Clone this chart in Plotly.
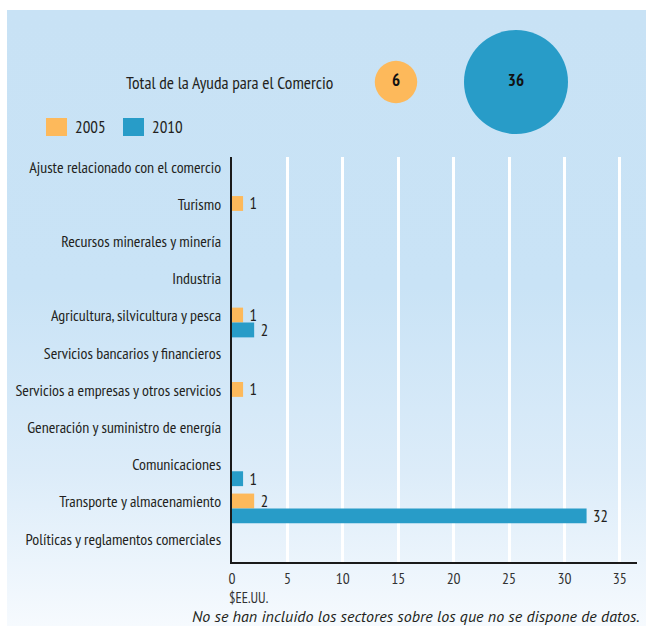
import base64
import plotly.graph_objects as go

W, H = 646, 626

# ---- data ----
categories = [
    "Ajuste relacionado con el comercio",
    "Turismo",
    "Recursos minerales y minería",
    "Industria",
    "Agricultura, silvicultura y pesca",
    "Servicios bancarios y financieros",
    "Servicios a empresas y otros servicios",
    "Generación y suministro de energía",
    "Comunicaciones",
    "Transporte y almacenamiento",
    "Políticas y reglamentos comerciales",
]
values_2005 = [None, 1, None, None, 1, None, 1, None, None, 2, None]
values_2010 = [None, None, None, None, 2, None, None, None, 1, 32, None]
years = ["2005", "2010"]
totals = [6, 36]
x_ticks = [0, 5, 10, 15, 20, 25, 30, 35]

ORANGE = "#FDB95B"
BLUE = "#289CC8"
TXT = "#231F20"
COND = "PT Sans Narrow, Roboto Condensed, DejaVu Sans Condensed, sans-serif"
ITAL = "PT Sans, Lato, Liberation Sans, sans-serif"


def px(x):
    return x / W


def py(y):
    return 1 - y / H


fig = go.Figure()

fig.add_trace(go.Bar(
    y=categories, x=values_2005, orientation="h", name="2005",
    marker=dict(color=ORANGE, line=dict(width=0)),
    width=0.4, offset=-0.22,
    text=values_2005, texttemplate="\u00a0%{x}", textposition="outside",
    textfont=dict(family=COND, size=16.5, color=TXT),
    constraintext="none", cliponaxis=False, showlegend=False,
))
fig.add_trace(go.Bar(
    y=categories, x=values_2010, orientation="h", name="2010",
    marker=dict(color=BLUE, line=dict(width=0)),
    width=0.4, offset=0.18,
    text=values_2010, texttemplate="\u00a0%{x}", textposition="outside",
    textfont=dict(family=COND, size=16.5, color=TXT),
    constraintext="none", cliponaxis=False, showlegend=False,
))

# bubbles for totals (area proportional)
fig.add_trace(go.Scatter(
    x=years, y=[0, 0], xaxis="x2", yaxis="y2", mode="markers+text",
    marker=dict(size=totals, sizemode="area", sizeref=2 * 36 / 104 ** 2, opacity=1,
                color=[ORANGE, BLUE], line=dict(width=0)),
    text=[str(t) for t in totals], textposition="middle center",
    textfont=dict(family=COND, size=17, color="#111111", weight="bold"),
    cliponaxis=False, showlegend=False, hoverinfo="skip",
))

# background gradient
svg = ('<svg xmlns="http://www.w3.org/2000/svg" width="100" height="100" preserveAspectRatio="none">'
       '<defs><linearGradient id="g" x1="0" y1="0" x2="0" y2="1">'
       '<stop offset="0" stop-color="#C8E2F5"/>'
       '<stop offset="0.45" stop-color="#C9E3F6"/>'
       '<stop offset="0.75" stop-color="#DCECF9"/>'
       '<stop offset="1" stop-color="#F6FAFE"/>'
       '</linearGradient></defs><rect width="100" height="100" fill="url(#g)"/></svg>')
src = "data:image/svg+xml;base64," + base64.b64encode(svg.encode()).decode()

x0p, x1p = 232, 637
y0p, y1p = 157, 562
bx0, bx1 = 396, 516
ppu = bx1 - bx0
x2range = [-(bx0 - x0p) / ppu, 1 + (x1p - bx1) / ppu]

fig.update_layout(
    width=W, height=H,
    margin=dict(l=0, r=0, t=0, b=0),
    paper_bgcolor="white", plot_bgcolor="rgba(0,0,0,0)",
    barmode="overlay",
    font=dict(family=COND, size=16, color=TXT),
    xaxis=dict(domain=[px(x0p), px(x1p)], range=[0, 36.55], tickvals=x_ticks,
               showgrid=True, gridcolor="white", gridwidth=2.5,
               showline=True, linecolor="#1a1a1a", linewidth=1.5,
               zeroline=False, ticks="", ticklabelstandoff=2,
               tickfont=dict(family=COND, size=15.5, color="#333333"),
               automargin=False, fixedrange=True),
    yaxis=dict(domain=[py(y1p), py(y0p)], range=[10.62, -0.27],
               type="category", showgrid=False,
               showline=True, linecolor="#1a1a1a", linewidth=1.5,
               ticks="", ticklabelstandoff=6,
               tickfont=dict(family=COND, size=16, color=TXT),
               automargin=False, fixedrange=True),
    xaxis2=dict(domain=[px(x0p), px(x1p)], range=x2range, type="category",
                visible=False, anchor="y2", fixedrange=True),
    yaxis2=dict(domain=[py(140), py(24)], range=[-1, 1], visible=False,
                anchor="x2", fixedrange=True),
    images=[dict(source=src, xref="paper", yref="paper", x=px(7), y=py(10),
                 sizex=1 - px(7), sizey=py(10), sizing="stretch",
                 xanchor="left", yanchor="top", layer="below")],
    showlegend=False,
)

# legend (drawn manually)
shapes = []
ann = []
for col, lbl, sx in [(ORANGE, "2005", 46), (BLUE, "2010", 123)]:
    shapes.append(dict(type="rect", xref="paper", yref="paper",
                       x0=px(sx), x1=px(sx + 21), y0=py(136), y1=py(118),
                       fillcolor=col, line=dict(width=0)))
    ann.append(dict(text=lbl, xref="paper", yref="paper", x=px(sx + 27), y=py(127),
                    xanchor="left", yanchor="middle", showarrow=False,
                    font=dict(family=COND, size=17, color=TXT)))

ann.append(dict(text="Total de la Ayuda para el Comercio", xref="paper", yref="paper",
                x=px(335), y=py(82), xanchor="right", yanchor="middle", showarrow=False,
                font=dict(family=COND, size=17.5, color=TXT)))
ann.append(dict(text="$EE.UU.", xref="paper", yref="paper", x=px(228), y=py(597),
                xanchor="left", yanchor="middle", showarrow=False, borderpad=0,
                font=dict(family=COND, size=14.5, color="#333333")))
ann.append(dict(text="<i>No se han incluido los sectores sobre los que no se dispone de datos.</i>",
                xref="paper", yref="paper", x=px(641), y=py(616),
                xanchor="right", yanchor="middle", showarrow=False, borderpad=0,
                font=dict(family=ITAL, size=16, color=TXT)))

fig.update_layout(shapes=shapes, annotations=ann)
fig.write_html("out.html", config={"displayModeBar": False},
               post_script="document.body.style.margin='0';")
